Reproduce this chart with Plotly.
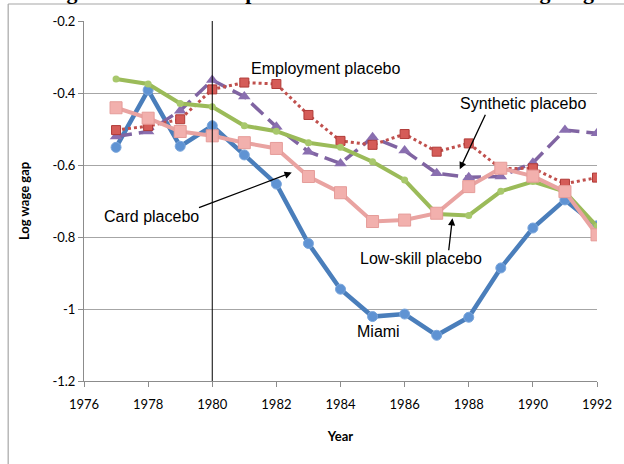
import plotly.graph_objects as go

years = list(range(1977, 1993))
miami = [-0.551, -0.392, -0.548, -0.491, -0.572, -0.653, -0.818, -0.945, -1.021, -1.014,
         -1.073, -1.023, -0.886, -0.775, -0.697, -0.769]
low_skill = [-0.361, -0.375, -0.429, -0.438, -0.491, -0.506, -0.538, -0.551, -0.591, -0.642,
             -0.736, -0.740, -0.673, -0.646, -0.674, -0.771]
card = [-0.441, -0.470, -0.507, -0.519, -0.538, -0.554, -0.632, -0.677, -0.757, -0.753,
        -0.734, -0.660, -0.609, -0.631, -0.674, -0.794]
employment = [-0.503, -0.492, -0.473, -0.390, -0.371, -0.375, -0.461, -0.533, -0.544, -0.514,
              -0.563, -0.540, -0.610, -0.609, -0.652, -0.635]
synthetic = [-0.521, -0.507, -0.449, -0.364, -0.410, -0.494, -0.563, -0.596, -0.523, -0.560,
             -0.623, -0.634, -0.632, -0.594, -0.503, -0.512]
event_year = 1980

x_ticks = list(range(1976, 1993, 2))
y_ticks = [-0.2, -0.4, -0.6, -0.8, -1.0, -1.2]
y_tick_labels = ["-0.2", "-0.4", "-0.6", "-0.8", "-1", "-1.2"]

title_text = "Figure 6. Miami and placebo trends in the relative log wage"

fig = go.Figure()

fig.add_trace(go.Scatter(x=years, y=miami, mode="lines+markers", name="Miami",
                         line=dict(color="#4a7ebb", width=4.5),
                         marker=dict(symbol="circle", size=10, color="#5f93d3",
                                     line=dict(width=1, color="#7aa6dc"))))
fig.add_trace(go.Scatter(x=years, y=synthetic, mode="lines+markers", name="Synthetic placebo",
                         line=dict(color="#8064a2", width=3.5, dash="16px,7px"),
                         marker=dict(symbol="triangle-up", size=11, color="#8a6fb0")))
fig.add_trace(go.Scatter(x=years, y=employment, mode="lines+markers", name="Employment placebo",
                         line=dict(color="#c0504d", width=3, dash="dot"),
                         marker=dict(symbol="square", size=9, color="#d55c58",
                                     line=dict(width=1, color="#b03a37"))))
fig.add_trace(go.Scatter(x=years, y=low_skill, mode="lines+markers", name="Low-skill placebo",
                         line=dict(color="#9bbb59", width=4),
                         marker=dict(symbol="circle", size=7, color="#a8c86c")))
fig.add_trace(go.Scatter(x=years, y=card, mode="lines+markers", name="Card placebo",
                         line=dict(color="#e9a3a1", width=4),
                         marker=dict(symbol="square", size=12, color="#f2b0ad",
                                     line=dict(width=1, color="#e59c99"))))

fig.add_shape(type="line", xref="x", yref="paper", x0=event_year, x1=event_year, y0=0, y1=1,
              line=dict(color="black", width=1))

# outer frame (left and top edges visible)
fig.add_shape(type="line", xref="paper", yref="paper", x0=-0.1478, x1=-0.1478, y0=-0.3, y1=1.0472,
              line=dict(color="#a6a6a6", width=1.2), layer="above")
fig.add_shape(type="line", xref="paper", yref="paper", x0=-0.1478, x1=1.1, y0=1.0472, y1=1.0472,
              line=dict(color="#a6a6a6", width=1.2), layer="above")

lab_font = dict(family="Liberation Sans, Arial, sans-serif", size=16, color="black")
labels = [
    ("Employment placebo", 1983.55, -0.331),
    ("Synthetic placebo", 1989.69, -0.428),
    ("Card placebo", 1978.12, -0.744),
    ("Low-skill placebo", 1986.52, -0.859),
    ("Miami", 1985.17, -1.063),
]
for t, xx, yy in labels:
    fig.add_annotation(x=xx, y=yy, xref="x", yref="y", text=t, showarrow=False, font=lab_font)

arrows = [
    (1988.54, -0.456, 1987.72, -0.612),
    (1979.54, -0.720, 1982.48, -0.621),
    (1987.37, -0.841, 1987.49, -0.748),
]
for ax_, ay_, hx, hy in arrows:
    fig.add_annotation(x=hx, y=hy, ax=ax_, ay=ay_, xref="x", yref="y", axref="x", ayref="y",
                       text="", showarrow=True, arrowhead=2, arrowsize=1.1, arrowwidth=1.3,
                       arrowcolor="black", standoff=0, startstandoff=0)

# cropped title at the very top
fig.add_annotation(x=-0.076, y=1.0417, xref="paper", yref="paper", xanchor="left", yanchor="bottom",
                   text="<b>" + title_text + "</b>", showarrow=False,
                   font=dict(family="Liberation Serif, Times New Roman, serif", size=22, color="black"))

fig.update_layout(
    width=624, height=464,
    margin=dict(l=84, r=19, t=21, b=83),
    paper_bgcolor="white", plot_bgcolor="white",
    showlegend=False,
    font=dict(family="Lato, sans-serif", size=13, color="black"),
)
fig.update_xaxes(range=[1976, 1992], tickvals=x_ticks, showgrid=False, zeroline=False,
                 showline=True, linecolor="#8c8c8c", linewidth=1,
                 ticks="outside", ticklen=5, tickcolor="#8c8c8c", ticklabeloverflow="allow",
                 ticklabelstandoff=6,
                 tickfont=dict(family="Lato, sans-serif", size=13),
                 title=dict(text="<b>Year</b>", font=dict(family="Lato, sans-serif", size=13), standoff=21))
fig.update_yaxes(range=[-1.2, -0.2], tickvals=y_ticks, ticktext=y_tick_labels,
                 showgrid=True, gridcolor="#a6a6a6", gridwidth=1, zeroline=False,
                 showline=True, linecolor="#8c8c8c", linewidth=1,
                 ticks="outside", ticklen=5, tickcolor="#8c8c8c",
                 tickfont=dict(family="Lato, sans-serif", size=13),
                 title=dict(text="<b>Log wage gap</b>", font=dict(family="Lato, sans-serif", size=13), standoff=19))

fig.write_html("out.html", config={"displayModeBar": False},
               post_script="document.body.style.margin='0';document.body.style.overflow='hidden';")
